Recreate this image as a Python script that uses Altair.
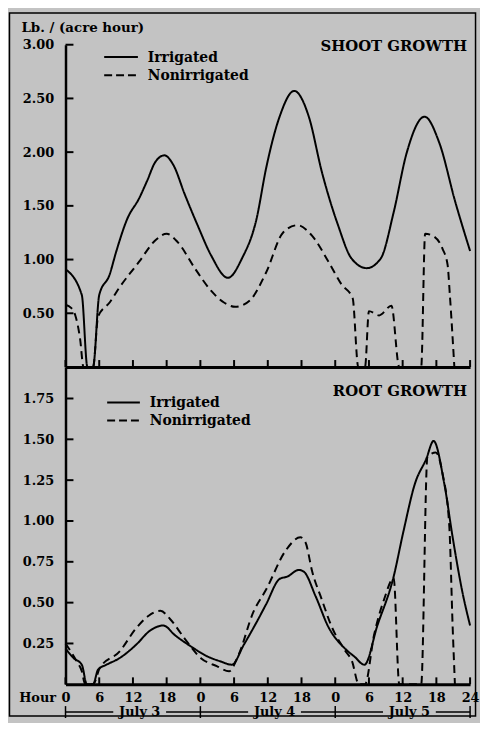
import altair as alt
import pandas as pd

# ---------------- data ----------------
series_names = ["Irrigated", "Nonirrigated"]
hour_ticks = list(range(0, 73, 6))
shoot_tick_values = [0.5, 1.0, 1.5, 2.0, 2.5, 3.0]
root_tick_values = [0.25, 0.5, 0.75, 1.0, 1.25, 1.5, 1.75]
day_names = ["July 3", "July 4", "July 5"]
day_starts = [0, 24, 48]
day_bounds = [0, 24, 48, 72]

shoot_irr_hour = [0, 2.9, 3.9, 4.9, 6.0, 7.85, 9.0, 11.0, 13.1, 14.5, 16.0, 17.6, 19.2, 21.2, 23.5,
                  25.9, 28.9, 31.4, 34.0, 35.7, 38.1, 40.7, 43.3, 45.6, 48.5, 50.9, 53.6, 56.1,
                  58.4, 60.7, 63.9, 66.5, 69.4, 72.0]
shoot_irr_val = [0.91, 0.67, 0.0, 0.0, 0.67, 0.86, 1.07, 1.38, 1.57, 1.73, 1.91, 1.97, 1.88, 1.61, 1.32,
                 1.04, 0.83, 1.01, 1.38, 1.85, 2.33, 2.57, 2.33, 1.82, 1.32, 1.01, 0.92, 1.01,
                 1.44, 1.99, 2.33, 2.09, 1.53, 1.08]

shoot_non_hour = [0, 1.0, 1.8, 2.6, 3.2, 4.9, 5.8, 7.85, 9.6, 13.1, 16.0, 18.0, 20.0, 23.0, 25.9, 28.2,
                  30.2, 32.8, 35.7, 38.7, 41.3, 43.9, 46.8, 49.1, 51.1, 52.1, 53.3, 54.0, 55.8, 58.0,
                  59.4, 63.3, 64.0, 65.4, 67.1, 68.0, 68.4, 69.2]
shoot_non_val = [0.58, 0.55, 0.47, 0.26, 0.0, 0.0, 0.47, 0.60, 0.74, 0.98, 1.18, 1.24, 1.16, 0.92, 0.71, 0.60,
                 0.56, 0.62, 0.88, 1.25, 1.32, 1.22, 0.98, 0.77, 0.64, 0.0, 0.0, 0.52, 0.48, 0.57,
                 0.0, 0.0, 1.24, 1.22, 1.10, 0.95, 0.67, 0.0]

root_irr_hour = [0, 1.45, 2.9, 3.8, 4.9, 5.8, 7.3, 9.6, 12.5, 15.1, 17.4, 19.5, 22.4, 25.3, 27.6, 29.6,
                 31.7, 34.0, 35.7, 38.1, 39.5, 41.5, 42.4, 44.5, 46.8, 49.7, 51.4, 53.2, 55.5, 58.4,
                 60.1, 62.2, 64.2, 65.5, 67.4, 68.9, 70.6, 72.0]
root_irr_val = [0.22, 0.16, 0.12, 0.0, 0.0, 0.09, 0.12, 0.16, 0.24, 0.33, 0.36, 0.30, 0.23, 0.17, 0.14, 0.12,
                0.24, 0.38, 0.49, 0.645, 0.66, 0.70, 0.69, 0.54, 0.35, 0.22, 0.17, 0.12, 0.36, 0.66,
                0.93, 1.23, 1.38, 1.49, 1.23, 0.90, 0.57, 0.36]

root_non_hour = [0, 2.0, 2.9, 3.5, 4.9, 6.1, 9.6, 12.5, 14.8, 16.9, 18.6, 21.2, 24.1, 27.0, 29.1, 30.8,
                 33.4, 35.7, 39.2, 41.8, 42.7, 43.9, 45.6, 47.4, 49.7, 51.0, 52.2, 53.3, 54.9, 56.7,
                 58.4, 59.4, 63.3, 64.4, 65.9, 67.1, 68.3, 68.9, 69.3]
root_non_val = [0.25, 0.14, 0.08, 0.0, 0.0, 0.10, 0.20, 0.34, 0.42, 0.45, 0.40, 0.28, 0.16, 0.11, 0.08, 0.18,
                0.44, 0.58, 0.82, 0.90, 0.87, 0.69, 0.52, 0.35, 0.21, 0.14, 0.0, 0.0, 0.30, 0.52,
                0.65, 0.0, 0.0, 1.39, 1.42, 1.29, 0.97, 0.35, 0.0]

# ---------------- styling ----------------
FONT = "DejaVu Serif"
FS = 13
W = 408
H_TOP = 325
H_BOT = 320
BG = "#c3c3c3"


def series_df(h1, v1, h2, v2):
    return pd.concat([
        pd.DataFrame({"hour": h1, "val": v1, "series": series_names[0]}),
        pd.DataFrame({"hour": h2, "val": v2, "series": series_names[1]}),
    ], ignore_index=True)


x_scale = alt.Scale(domain=[0, 72], nice=False, zero=False)
dash_scale = alt.Scale(domain=series_names, range=[[1, 0], [8, 5]])

# axes
x_axis_top = alt.Axis(labels=False, ticks=False, tickSize=0, title=None, domainWidth=3)
x_axis_bot = alt.Axis(values=hour_ticks, labelExpr="datum.value == 72 ? '24' : '' + (datum.value % 24)",
                      ticks=False, tickSize=0, labelPadding=7, labelFlush=False, labelOverlap=False,
                      title="Hour", titleX=-10, titleY=13, titleAlign="right", titleBaseline="middle",
                      domainWidth=3)
y_axis_top = alt.Axis(values=shoot_tick_values, format=".2f", ticks=False, tickSize=0, labelPadding=12,
                      title="Lb. / (acre hour)", titleAngle=0, titleX=-45, titleY=-17, titleAlign="left",
                      titleBaseline="middle", titleFontSize=13.5)
y_axis_bot = alt.Axis(values=root_tick_values, format=".2f", ticks=False, tickSize=0, labelPadding=12,
                      title=None)


def line_layer(df, x_axis, y_scale, y_axis):
    return alt.Chart(df).mark_line(color="black", strokeWidth=2, interpolate="monotone").encode(
        x=alt.X("hour:Q", scale=x_scale, axis=x_axis),
        y=alt.Y("val:Q", scale=y_scale, axis=y_axis),
        strokeDash=alt.StrokeDash("series:N", scale=dash_scale, legend=None),
        detail="series:N",
    )


def ytick_layer(vals, y_scale, y_axis):
    return alt.Chart(pd.DataFrame({"val": vals})).mark_rule(color="black", strokeWidth=2).encode(
        y=alt.Y("val:Q", scale=y_scale, axis=y_axis),
        x=alt.value(0), x2=alt.value(8),
    )


def xtick_layer(h, x_axis):
    return alt.Chart(pd.DataFrame({"hour": hour_ticks})).mark_rule(color="black", strokeWidth=2).encode(
        x=alt.X("hour:Q", scale=x_scale, axis=x_axis),
        y=alt.value(h), y2=alt.value(h - 7),
    )


def text_layer(txt, x, y, align="left", size=14):
    return alt.Chart(pd.DataFrame({"t": [txt]})).mark_text(
        align=align, baseline="middle", font=FONT, fontWeight="bold", fontSize=size, color="black"
    ).encode(x=alt.value(x), y=alt.value(y), text="t:N")


def legend_layers(y1, y2, x0, x1, tx):
    solid = alt.Chart(pd.DataFrame({"s": [series_names[0]]})).mark_rule(
        color="black", strokeWidth=2).encode(x=alt.value(x0), x2=alt.value(x1), y=alt.value(y1))
    dashed = alt.Chart(pd.DataFrame({"s": [series_names[1]]})).mark_rule(
        color="black", strokeWidth=2, strokeDash=[8, 4]).encode(x=alt.value(x0), x2=alt.value(x1), y=alt.value(y2))
    return [solid, text_layer(series_names[0], tx, y1 + 1), dashed, text_layer(series_names[1], tx, y2 + 1)]


frame = alt.Chart(pd.DataFrame({"f": [0]})).mark_rect(
    fillOpacity=0, stroke="black", strokeWidth=1.5
).encode(x=alt.value(-56.5), x2=alt.value(W + 5.5), y=alt.value(-32), y2=alt.value(677))

# ---------------- top panel ----------------
y_top = alt.Scale(domain=[0, 3], nice=False)
top = alt.layer(
    line_layer(series_df(shoot_irr_hour, shoot_irr_val, shoot_non_hour, shoot_non_val),
               x_axis_top, y_top, y_axis_top),
    ytick_layer(shoot_tick_values, y_top, y_axis_top),
    xtick_layer(H_TOP, x_axis_top),
    frame,
    *legend_layers(12.3, 30.7, 39, 73, 83),
    text_layer("SHOOT GROWTH", W - 3, 1, align="right", size=15),
).properties(width=W, height=H_TOP)

# ---------------- bottom panel ----------------
y_bot = alt.Scale(domain=[0, H_BOT / 164.7], nice=False)
DAY_Y = H_BOT + 28

seg_start, seg_end = [], []
for d in day_starts:
    seg_start += [d, d + 13.2 + 4.7]
    seg_end += [d + 13.2 - 4.7, d + 24]
day_segments = alt.Chart(pd.DataFrame({"hour": seg_start, "hour2": seg_end})).mark_rule(
    color="black", strokeWidth=1.5).encode(
    x=alt.X("hour:Q", scale=x_scale, axis=x_axis_bot), x2="hour2:Q", y=alt.value(DAY_Y))
day_ticks = alt.Chart(pd.DataFrame({"hour": day_bounds})).mark_rule(color="black", strokeWidth=1.5).encode(
    x=alt.X("hour:Q", scale=x_scale, axis=x_axis_bot), y=alt.value(DAY_Y - 6), y2=alt.value(DAY_Y + 6))
day_labels = alt.Chart(pd.DataFrame({"hour": [d + 13.2 for d in day_starts], "name": day_names})).mark_text(
    font=FONT, fontWeight="bold", fontSize=FS, color="black", baseline="middle").encode(
    x=alt.X("hour:Q", scale=x_scale, axis=x_axis_bot), y=alt.value(DAY_Y), text="name:N")

bottom = alt.layer(
    line_layer(series_df(root_irr_hour, root_irr_val, root_non_hour, root_non_val),
               x_axis_bot, y_bot, y_axis_bot),
    ytick_layer(root_tick_values, y_bot, y_axis_bot),
    xtick_layer(H_BOT, x_axis_bot),
    *legend_layers(35.7, 54, 42, 75, 85),
    text_layer("ROOT GROWTH", W - 3, 24, align="right", size=15),
    day_segments, day_ticks, day_labels,
).properties(width=W, height=H_BOT)

chart = alt.vconcat(top, bottom, spacing=0, bounds="flush").resolve_scale(
    y="independent"
).properties(padding=0, background=BG).configure_view(
    stroke="transparent"
).configure_axis(
    labelFont=FONT, labelFontWeight="bold", labelFontSize=FS, labelColor="black",
    titleFont=FONT, titleFontWeight="bold", titleFontSize=FS, titleColor="black",
    domainColor="black", domainWidth=2.5, grid=False,
)

chart.save("out.html", embed_options={"renderer": "svg", "actions": False})
